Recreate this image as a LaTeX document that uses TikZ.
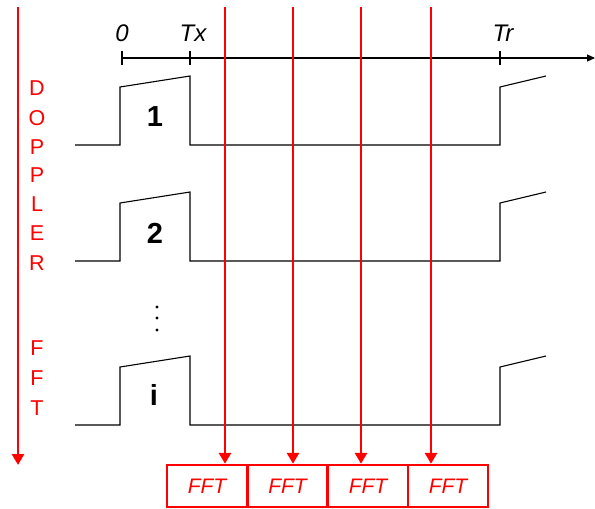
\documentclass[tikz,border=0pt]{standalone}
\usepackage{fontspec}
\setmainfont{Liberation Sans}
\usetikzlibrary{arrows.meta}
\begin{document}
\begin{tikzpicture}[x=1pt,y=-1pt,
 sig/.style={black, line width=1.1pt},
 redarrow/.style={red, line width=2.8pt, -{Triangle[width=12pt,length=11pt]}},
 fftbox/.style={draw=red, line width=2.4pt, minimum width=80pt, minimum height=42pt, inner sep=0pt, font=\fontsize{21}{21}\selectfont\itshape, text=red},
 letter/.style={text=red, inner sep=0pt, font=\fontsize{21.5}{21.5}\selectfont},
 num/.style={inner sep=0pt, font=\fontsize{29}{29}\selectfont\bfseries},
 ticklab/.style={inner sep=0pt, font=\fontsize{24}{24}\selectfont\itshape},
 dotmark/.style={circle, fill=black, inner sep=0pt, minimum size=3.2pt}]
\useasboundingbox (0,0) rectangle (595,509);

% time axis
\coordinate (a0) at (122,58);
\coordinate (aend) at (595,58);
\draw[sig, -{Triangle[width=7pt,length=8pt]}] (a0) -- (aend);
\draw[sig] (122,51) -- (122,65);
\draw[sig] (190,51) -- (190,65);
\draw[sig] (500,51) -- (500,65);
\node[ticklab] (l0) at (122,33) {0};
\node[ticklab] (ltx) at (193,33) {Tx};
\node[ticklab] (ltr) at (503,33) {Tr};

% pulses
\foreach \b in {145, 261, 425} {
  \draw[sig] (75,\b) -- (120,\b) -- (120,\b-58) -- (190,\b-69) -- (190,\b) -- (500,\b) -- (500,\b-58) -- (546,\b-69);
}
\node[num] (n1) at (155,117) {1};
\node[num] (n2) at (155,233) {2};
\node[num] (n3) at (154,395) {i};
\node[dotmark] (d1) at (157,307) {};
\node[dotmark] (d2) at (157,318) {};
\node[dotmark] (d3) at (157,330) {};

% FFT boxes
\node[fftbox] (f1) at (207,486) {FFT};
\node[fftbox] (f2) at (287.5,486) {FFT};
\node[fftbox] (f3) at (368,486) {FFT};
\node[fftbox] (f4) at (448,486) {FFT};

% red sampling lines
\coordinate (t1) at (225,7);
\coordinate (t2) at (293,7);
\coordinate (t3) at (361,7);
\coordinate (t4) at (431,7);
\draw[redarrow] (t1) -- (t1 |- f1.north);
\draw[redarrow] (t2) -- (t2 |- f2.north);
\draw[redarrow] (t3) -- (t3 |- f3.north);
\draw[redarrow] (t4) -- (t4 |- f4.north);

% Doppler arrow
\coordinate (ds) at (18,7);
\coordinate (de) at (18,465);
\draw[redarrow] (ds) -- (de);
\node[letter] (c1) at (37,88) {D};
\node[letter] (c2) at (37,118) {O};
\node[letter] (c3) at (37,147) {P};
\node[letter] (c4) at (37,175) {P};
\node[letter] (c5) at (37,204) {L};
\node[letter] (c6) at (37,233) {E};
\node[letter] (c7) at (37,263) {R};
\node[letter] (c8) at (37,348) {F};
\node[letter] (c9) at (37,378) {F};
\node[letter] (c10) at (37,408) {T};
\end{tikzpicture}
\end{document}
